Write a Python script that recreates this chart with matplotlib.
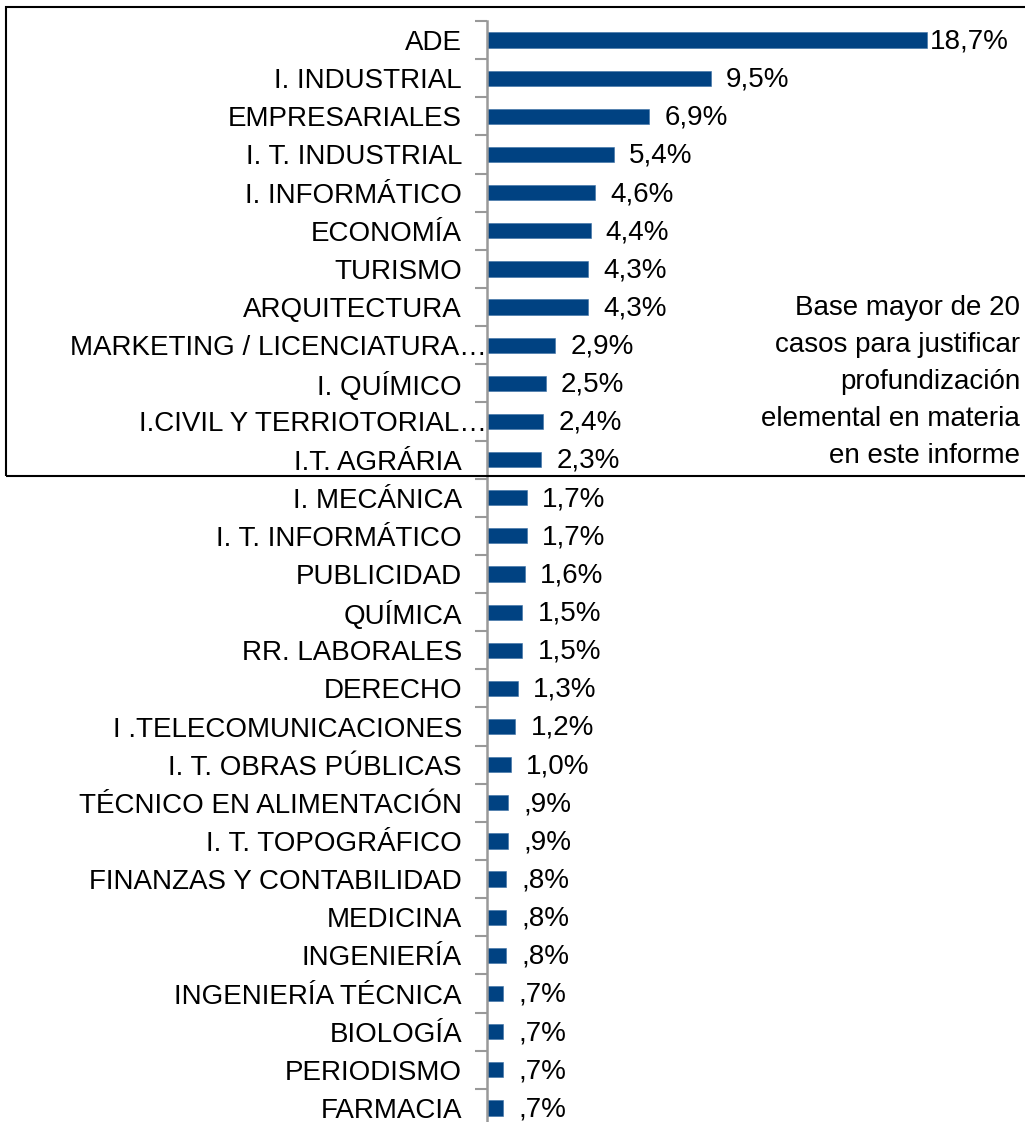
import matplotlib
matplotlib.use("Agg")
import numpy as np
from matplotlib import pyplot as plt
from matplotlib.patches import Rectangle
from matplotlib.transforms import ScaledTranslation

plt.rcParams["font.family"] = ["Liberation Sans", "DejaVu Sans"]

carreras = [
    "ADE", "I. INDUSTRIAL", "EMPRESARIALES", "I. T. INDUSTRIAL", "I. INFORMÁTICO",
    "ECONOMÍA", "TURISMO", "ARQUITECTURA", "MARKETING / LICENCIATURA…",
    "I. QUÍMICO", "I.CIVIL Y TERRIOTORIAL…", "I.T. AGRÁRIA", "I. MECÁNICA",
    "I. T. INFORMÁTICO", "PUBLICIDAD", "QUÍMICA", "RR. LABORALES", "DERECHO",
    "I .TELECOMUNICACIONES", "I. T. OBRAS PÚBLICAS", "TÉCNICO EN ALIMENTACIÓN",
    "I. T. TOPOGRÁFICO", "FINANZAS Y CONTABILIDAD", "MEDICINA", "INGENIERÍA",
    "INGENIERÍA TÉCNICA", "BIOLOGÍA", "PERIODISMO", "FARMACIA",
]
porcentajes = [
    18.7, 9.5, 6.9, 5.4, 4.6, 4.4, 4.3, 4.3, 2.9, 2.5, 2.4, 2.3, 1.7, 1.7, 1.6,
    1.5, 1.5, 1.3, 1.2, 1.0, 0.9, 0.9, 0.8, 0.8, 0.8, 0.7, 0.7, 0.7, 0.7,
]
nota = "Base mayor de 20\ncasos para justificar\nprofundización\nelemental en materia\nen este informe"


def etiqueta(v):
    s = f"{v:.1f}".replace(".", ",")
    if s.startswith("0"):
        s = s[1:]
    return s + "%"


W, H = 1025, 1122
fig = plt.figure(figsize=(W / 100, H / 100), dpi=100)
px = 23.53  # pixels per percent
ax = fig.add_axes([487 / W, (H - 1127) / H, (W - 487) / W, (1127 - 21) / H])

y = np.arange(len(carreras))
ax.barh(y, porcentajes, height=0.4, color="#004282", edgecolor="#3a6ea5", linewidth=0.4)
ax.set_ylim(len(carreras) - 0.5, -0.5)
ax.set_xlim(0, (W - 487) / px)

ax.set_yticks(y)
ax.set_yticklabels(carreras, fontsize=20)
ax.tick_params(axis="y", which="major", length=0, pad=18)
ax.set_yticks(np.arange(-0.5, len(carreras), 1), minor=True)
ax.tick_params(axis="y", which="minor", length=9, width=1.5, color="#999999")
ax.set_xticks([])
for s in ["top", "right", "bottom"]:
    ax.spines[s].set_visible(False)
ax.spines["left"].set_color("#999999")
ax.spines["left"].set_linewidth(1.8)
ax.patch.set_alpha(0)

# truncated labels run up to the axis, as in the original
for lab in ax.get_yticklabels():
    if lab.get_text().endswith("…"):
        lab.set_transform(lab.get_transform() + ScaledTranslation(25 / 100, 0, fig.dpi_scale_trans))

for i, v in enumerate(porcentajes):
    off = 2 if i == 0 else 11
    ax.annotate(etiqueta(v), (v, i), xytext=(off, -1), textcoords="offset points",
                va="center", ha="left", fontsize=20)

fig.text(1020 / W, (H - 382) / H, nota, ha="right", va="center", fontsize=20,
         linespacing=1.55)

fig.patches.append(Rectangle((6 / W, (H - 476) / H), 1.1, (476 - 7) / H,
                             transform=fig.transFigure, fill=False,
                             edgecolor="black", linewidth=1.5))

fig.savefig("out.png", dpi=100)
